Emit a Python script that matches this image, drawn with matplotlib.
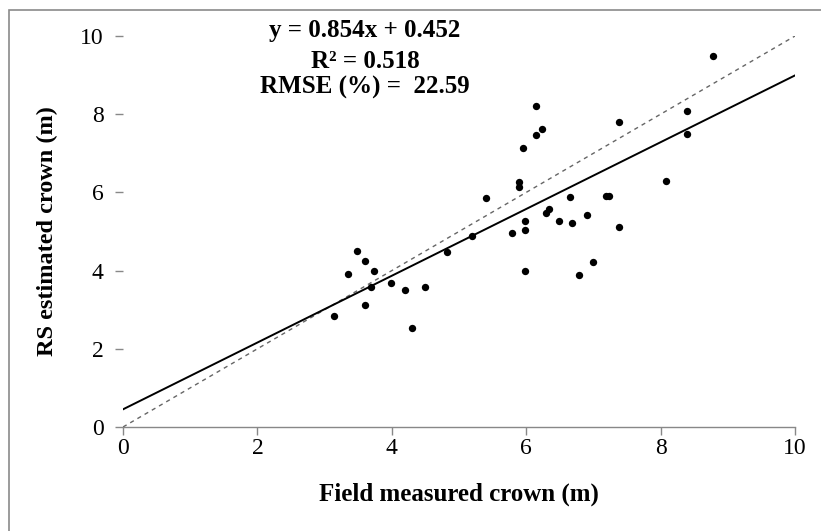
import matplotlib
matplotlib.use("Agg")
import matplotlib.pyplot as plt
from matplotlib.patches import Rectangle
import numpy as np

field = [3.14, 3.35, 3.48, 3.60, 3.60, 3.69, 3.74, 3.99, 4.20, 4.30,
         4.49, 4.82, 5.19, 5.40, 5.79, 5.89, 5.89, 5.95, 5.98, 5.98,
         5.98, 6.15, 6.15, 6.24, 6.29, 6.34, 6.49, 6.65, 6.68, 6.79,
         6.90, 6.99, 7.19, 7.23, 7.38, 7.38, 8.08, 8.39, 8.39, 8.78]
rs = [2.84, 3.91, 4.50, 4.25, 3.12, 3.58, 3.99, 3.68, 3.50, 2.53,
      3.58, 4.48, 4.88, 5.86, 4.96, 6.27, 6.14, 7.14, 5.27, 5.04,
      3.99, 8.21, 7.47, 7.62, 5.47, 5.58, 5.27, 5.88, 5.22, 3.89,
      5.42, 4.22, 5.91, 5.91, 7.80, 5.12, 6.29, 8.08, 7.49, 9.49]
slope = 0.854
intercept = 0.452
ticks = [0, 2, 4, 6, 8, 10]
eq_lines = ["y = 0.854x + 0.452", "R\u00b2 = 0.518", "RMSE (%) =  22.59"]

plt.rcParams['font.family'] = ['Liberation Serif', 'DejaVu Serif']

W, H = 821, 531
fig = plt.figure(figsize=(W / 100, H / 100), dpi=100)
fig.patch.set_facecolor('white')

# outer frame
fig.patches.append(Rectangle((9 / W, -0.1), 1.2, 1 - 10 / H + 0.1,
                             transform=fig.transFigure, fill=False,
                             edgecolor='#8a8a8a', linewidth=1.2))

ax = fig.add_axes([123 / W, 1 - 427 / H, (795 - 123) / W, (427 - 36) / H])
ax.set_xlim(0, 10)
ax.set_ylim(0, 10)

xs = np.array([0, 10])
ax.plot(xs, xs, linestyle=(0, (3, 3)), color='#666666', linewidth=1.0, zorder=2)
ax.plot(xs, slope * xs + intercept, color='black', linewidth=1.4, zorder=2)
ax.scatter(field, rs, s=28, color='black', zorder=3, linewidths=0)

for s in ['top', 'right', 'left']:
    ax.spines[s].set_visible(False)
ax.spines['bottom'].set_color('#888888')
ax.spines['bottom'].set_linewidth(1.0)

ax.set_xticks(ticks)
ax.set_yticks(ticks)
ax.tick_params(axis='x', direction='out', length=6, width=1, color='#888888',
               labelsize=17, pad=2)
ax.tick_params(axis='y', direction='out', length=6, width=1, color='#888888',
               labelsize=17, pad=8)

ax.set_xlabel("Field measured crown (m)", fontsize=18, fontweight='bold', labelpad=17)
ax.set_ylabel("RS estimated crown (m)", fontsize=17.5, fontweight='bold', labelpad=16)

ypos = [30, 61, 87]
for t, yp in zip(eq_lines, ypos):
    fig.text(365 / W, 1 - yp / H, t, ha='center', va='center',
             fontsize=18, fontweight='bold')

fig.savefig("out.png", dpi=100, facecolor='white')
